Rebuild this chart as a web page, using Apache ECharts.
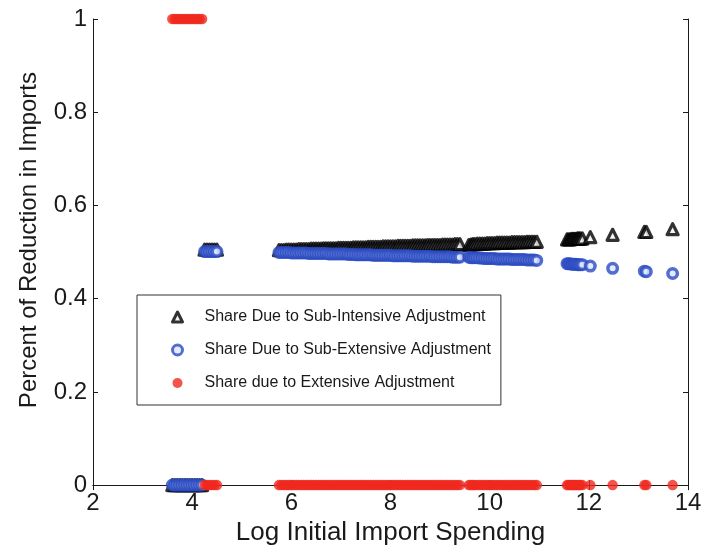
<!DOCTYPE html>
<html>
<head>
<meta charset="utf-8">
<script src="https://cdn.jsdelivr.net/npm/echarts@6/dist/echarts.min.js"></script>
<style>
html,body{margin:0;padding:0;background:#fff;}
#chart{width:713px;height:551px;}
</style>
</head>
<body>
<div id="chart"></div>
<script>
// Log initial import spending (x) for each observation
var logSpending = [
  3.60, 3.65, 3.70, 3.75, 3.80, 3.85, 3.90, 3.95, 4.00, 4.05, 4.10, 4.15, 4.20,
  4.25, 4.30, 4.35, 4.40, 4.45, 4.50,
  5.75, 5.80, 5.85, 5.90, 5.95, 6.00, 6.05, 6.10, 6.15, 6.20,
  6.25, 6.30, 6.35, 6.40, 6.45, 6.50, 6.55, 6.60, 6.65, 6.70,
  6.75, 6.80, 6.85, 6.90, 6.95, 7.00, 7.05, 7.10, 7.15, 7.20,
  7.25, 7.30, 7.35, 7.40, 7.45, 7.50, 7.55, 7.60, 7.65, 7.70,
  7.75, 7.80, 7.85, 7.90, 7.95, 8.00, 8.05, 8.10, 8.15, 8.20,
  8.25, 8.30, 8.35, 8.40, 8.45, 8.50, 8.55, 8.60, 8.65, 8.70,
  8.75, 8.80, 8.85, 8.90, 8.95, 9.00, 9.05, 9.10, 9.15, 9.20,
  9.25, 9.30, 9.35, 9.40,
  9.58, 9.62, 9.66, 9.70, 9.75, 9.80, 9.85, 9.90, 9.95, 10.00,
  10.05, 10.10, 10.15, 10.20, 10.25, 10.30, 10.35, 10.40, 10.45, 10.50,
  10.55, 10.60, 10.65, 10.70, 10.75, 10.80, 10.85, 10.90, 10.95,
  11.56, 11.59, 11.62, 11.65, 11.68, 11.71, 11.74, 11.77, 11.80, 11.83, 11.87,
  12.03, 12.48, 13.12, 13.16, 13.69
];
// Share due to sub-intensive adjustment
var shareIntensive = [
  0, 0, 0, 0, 0, 0, 0, 0, 0, 0, 0, 0, 0,
  0.505, 0.505, 0.505, 0.505, 0.505, 0.505,
  0.504, 0.504, 0.504, 0.505, 0.505, 0.505, 0.505, 0.505, 0.506, 0.506,
  0.506, 0.506, 0.506, 0.507, 0.507, 0.507, 0.507, 0.507, 0.508, 0.508,
  0.508, 0.508, 0.508, 0.508, 0.509, 0.509, 0.509, 0.509, 0.509, 0.509,
  0.510, 0.510, 0.510, 0.510, 0.510, 0.510, 0.511, 0.511, 0.511, 0.511,
  0.511, 0.511, 0.512, 0.512, 0.512, 0.512, 0.512, 0.512, 0.513, 0.513,
  0.513, 0.513, 0.513, 0.513, 0.514, 0.514, 0.514, 0.514, 0.514, 0.514,
  0.515, 0.515, 0.515, 0.515, 0.515, 0.515, 0.516, 0.516, 0.516, 0.516,
  0.516, 0.517, 0.517, 0.517,
  0.515, 0.516, 0.517, 0.517, 0.518, 0.518, 0.518, 0.518, 0.519, 0.519,
  0.519, 0.519, 0.520, 0.520, 0.520, 0.520, 0.520, 0.520, 0.521, 0.521,
  0.521, 0.521, 0.521, 0.521, 0.522, 0.522, 0.522, 0.522, 0.522,
  0.527, 0.527, 0.527, 0.528, 0.528, 0.528, 0.528, 0.529, 0.529, 0.529, 0.529,
  0.532, 0.537, 0.543, 0.543, 0.549
];
// Share due to sub-extensive adjustment
var shareSubExtensive = [
  0, 0, 0, 0, 0, 0, 0, 0, 0, 0, 0, 0, 0,
  0.501, 0.501, 0.501, 0.501, 0.501, 0.501,
  0.499, 0.499, 0.499, 0.499, 0.499, 0.498, 0.498, 0.498, 0.498, 0.498,
  0.498, 0.498, 0.497, 0.497, 0.497, 0.497, 0.497, 0.497, 0.497, 0.497,
  0.496, 0.496, 0.496, 0.496, 0.496, 0.496, 0.496, 0.496, 0.495, 0.495,
  0.495, 0.494, 0.494, 0.494, 0.494, 0.494, 0.494, 0.494, 0.493, 0.493,
  0.493, 0.493, 0.493, 0.493, 0.493, 0.493, 0.492, 0.492, 0.492, 0.492,
  0.492, 0.492, 0.492, 0.492, 0.491, 0.491, 0.491, 0.491, 0.491, 0.491,
  0.491, 0.491, 0.490, 0.490, 0.490, 0.490, 0.490, 0.490, 0.490, 0.490,
  0.489, 0.489, 0.489, 0.489,
  0.489, 0.488, 0.488, 0.488, 0.488, 0.487, 0.487, 0.486, 0.486, 0.486,
  0.486, 0.486, 0.485, 0.485, 0.485, 0.485, 0.485, 0.485, 0.484, 0.484,
  0.484, 0.484, 0.484, 0.484, 0.483, 0.483, 0.483, 0.483, 0.482,
  0.475, 0.475, 0.475, 0.474, 0.474, 0.474, 0.474, 0.473, 0.473, 0.473, 0.473,
  0.470, 0.465, 0.459, 0.458, 0.454
];
// Share due to extensive adjustment
var shareExtensive = [
  1, 1, 1, 1, 1, 1, 1, 1, 1, 1, 1, 1, 1,
  0, 0, 0, 0, 0, 0,
  0, 0, 0, 0, 0, 0, 0, 0, 0, 0,
  0, 0, 0, 0, 0, 0, 0, 0, 0, 0,
  0, 0, 0, 0, 0, 0, 0, 0, 0, 0,
  0, 0, 0, 0, 0, 0, 0, 0, 0, 0,
  0, 0, 0, 0, 0, 0, 0, 0, 0, 0,
  0, 0, 0, 0, 0, 0, 0, 0, 0, 0,
  0, 0, 0, 0, 0, 0, 0, 0, 0, 0,
  0, 0, 0, 0,
  0, 0, 0, 0, 0, 0, 0, 0, 0, 0,
  0, 0, 0, 0, 0, 0, 0, 0, 0, 0,
  0, 0, 0, 0, 0, 0, 0, 0, 0,
  0, 0, 0, 0, 0, 0, 0, 0, 0, 0, 0,
  0, 0, 0, 0, 0
];
var xTicks = { min: 2, max: 14, interval: 2 };
var yTicks = { min: 0, max: 1, interval: 0.2 };
var seriesNames = [
  'Share Due to Sub-Intensive Adjustment',
  'Share Due to Sub-Extensive Adjustment',
  'Share due to Extensive Adjustment'
];

function pairs(ys) {
  return logSpending.map(function (x, i) { return [x, ys[i]]; });
}

var FONT = '"Liberation Sans", Arial, Helvetica, sans-serif';
var AX = '#1a1a1a';
var BLUE = '#2b4bc2';
var RED = '#f0281e';

var chart = echarts.init(document.getElementById('chart'), null, { renderer: 'canvas' });
chart.setOption({
  animation: false,
  backgroundColor: '#ffffff',
  grid: { left: 93, right: 25, top: 19, bottom: 63, containLabel: false },
  legend: {
    orient: 'vertical',
    left: 137,
    top: 295,
    padding: [14, 10, 14, 34],
    itemGap: 17,
    itemWidth: 10,
    itemHeight: 10,
    borderColor: '#333',
    borderWidth: 1,
    backgroundColor: '#fff',
    textStyle: { fontFamily: FONT, fontSize: 16, color: '#1a1a1a', padding: [0, 0, 0, 17] },
    data: [
      { name: seriesNames[0], icon: 'triangle', itemStyle: { color: '#f4f4f4', borderColor: '#000', borderWidth: 3, borderJoin: 'round' } },
      { name: seriesNames[1], icon: 'circle', itemStyle: { color: '#dfe6ff', borderColor: BLUE, borderWidth: 3 } },
      { name: seriesNames[2], icon: 'circle', itemStyle: { color: RED, borderWidth: 0 } }
    ]
  },
  xAxis: [{
    type: 'value',
    min: xTicks.min, max: xTicks.max, interval: xTicks.interval,
    name: 'Log Initial Import Spending',
    nameLocation: 'middle',
    nameGap: 30,
    nameTextStyle: { fontFamily: FONT, fontSize: 26, color: '#1a1a1a' },
    axisLine: { lineStyle: { color: AX, width: 1 } },
    axisTick: { inside: true, length: 5, lineStyle: { color: AX } },
    axisLabel: { fontFamily: FONT, fontSize: 24, color: '#1a1a1a', margin: 6 },
    splitLine: { show: false }
  }, {
    type: 'value', position: 'top',
    min: xTicks.min, max: xTicks.max, interval: xTicks.interval,
    axisLine: { show: true, lineStyle: { color: AX, width: 1 } },
    axisTick: { show: true, inside: true, length: 5, lineStyle: { color: AX } },
    axisLabel: { show: false },
    splitLine: { show: false }
  }],
  yAxis: [{
    type: 'value',
    min: yTicks.min, max: yTicks.max, interval: yTicks.interval,
    name: 'Percent of Reduction in Imports',
    nameLocation: 'middle',
    nameGap: 52,
    nameTextStyle: { fontFamily: FONT, fontSize: 24, color: '#1a1a1a', padding: [0, 0, 0, 24] },
    axisLine: { show: true, lineStyle: { color: AX, width: 1 } },
    axisTick: { show: true, inside: true, length: 5, lineStyle: { color: AX } },
    axisLabel: { fontFamily: FONT, fontSize: 24, color: '#1a1a1a', margin: 6 },
    splitLine: { show: false }
  }, {
    type: 'value', position: 'right',
    min: yTicks.min, max: yTicks.max, interval: yTicks.interval,
    axisLine: { show: true, lineStyle: { color: AX, width: 1 } },
    axisTick: { show: true, inside: true, length: 5, lineStyle: { color: AX } },
    axisLabel: { show: false },
    splitLine: { show: false }
  }],
  series: [{
    name: seriesNames[0],
    type: 'scatter',
    xAxisIndex: 0, yAxisIndex: 0,
    symbol: 'triangle',
    symbolSize: 11,
    clip: false,
    itemStyle: { color: '#f4f4f4', borderColor: '#000000', borderWidth: 3.2, borderJoin: 'round' },
    data: pairs(shareIntensive)
  }, {
    name: seriesNames[1],
    type: 'scatter',
    xAxisIndex: 0, yAxisIndex: 0,
    symbol: 'circle',
    symbolSize: 9.5,
    clip: false,
    itemStyle: { color: '#dfe6ff', borderColor: BLUE, borderWidth: 3.5 },
    data: pairs(shareSubExtensive)
  }, {
    name: seriesNames[2],
    type: 'scatter',
    xAxisIndex: 0, yAxisIndex: 0,
    symbol: 'circle',
    symbolSize: 10.5,
    clip: false,
    itemStyle: { color: RED },
    data: pairs(shareExtensive)
  }]
});
</script>
</body>
</html>
